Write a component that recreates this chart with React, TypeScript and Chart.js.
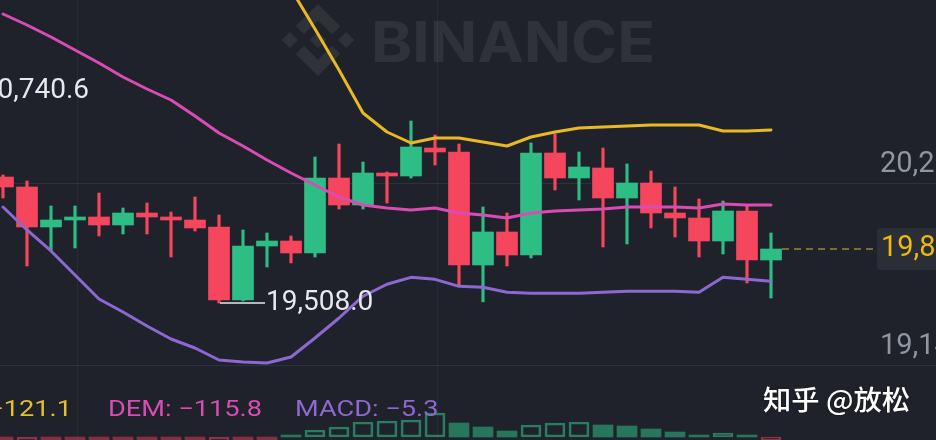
import React, { useEffect, useRef } from "react";
import { Chart, registerables } from "chart.js";

Chart.register(...registerables);

// ---------- data ----------
const opens = [
  20240.6, 20182.5, 19950.0, 19990.6, 20008.1, 19961.6, 20031.3, 20008.1, 19990.6, 19950.0,
  19525.5, 19839.4, 19868.5, 19798.8, 20234.8, 20077.8, 20263.9, 20246.4, 20409.2, 20386.0,
  19729.0, 19920.9, 19787.1, 20380.2, 20234.8, 20293.0, 20118.5, 20205.7, 20031.3, 20002.3,
  19868.5, 20043.0, 19758.1,
];
const highs = [
  20252.3, 20217.4, 20072.0, 20072.0, 20147.6, 20060.4, 20089.5, 20037.1, 20124.4, 20019.7,
  19932.5, 19915.1, 19897.6, 20356.9, 20432.5, 20327.8, 20269.7, 20566.2, 20484.8, 20432.5,
  20066.2, 20031.3, 20438.3, 20490.6, 20386.0, 20409.2, 20316.4, 20275.5, 20182.5, 20112.7,
  20101.1, 20077.8, 19915.1,
];
const lows = [
  20118.5, 19723.2, 19810.4, 19827.8, 19897.6, 19909.2, 19909.2, 19775.5, 19926.7, 19508.0,
  19519.7, 19717.4, 19740.6, 19775.5, 20054.6, 20054.6, 20089.5, 20234.8, 20310.4, 19612.7,
  19515.0, 19723.2, 19769.7, 20165.0, 20106.9, 19833.6, 19851.1, 19944.1, 19891.8, 19775.5,
  19792.9, 19624.4, 19537.1,
];
const closes = [
  20182.5, 19950.0, 19990.6, 20008.1, 19961.6, 20031.3, 20008.1, 19990.6, 19944.1, 19525.5,
  19839.4, 19868.5, 19798.8, 20234.8, 20077.8, 20263.9, 20246.4, 20415.0, 20386.0, 19729.0,
  19920.9, 19787.1, 20380.2, 20234.8, 20298.8, 20118.5, 20205.7, 20031.3, 20002.3, 19868.5,
  20043.0, 19758.1, 19822.0,
];
const upperBand = [
  22298.8, 22316.2, 22298.8, 22287.2, 22275.5, 22188.3, 22130.2, 22077.8, 21944.1, 21816.2,
  21676.7, 21519.7, 21333.7, 21101.1, 20862.7, 20612.7, 20502.3, 20438.3, 20467.4, 20467.4,
  20444.1, 20420.9, 20473.2, 20502.3, 20525.5, 20531.3, 20537.1, 20543.0, 20543.0, 20543.0,
  20508.1, 20508.1, 20513.9,
];
const middleBand = [
  21188.3, 21124.3, 21054.6, 20979.0, 20903.4, 20822.0, 20752.3, 20688.3, 20595.3, 20496.5,
  20420.9, 20339.5, 20263.9, 20194.1, 20124.3, 20077.8, 20060.4, 20048.8, 20060.4, 20031.3,
  20019.7, 20002.3, 20031.3, 20043.0, 20048.8, 20054.6, 20066.2, 20066.2, 20066.2, 20060.4,
  20083.6, 20077.8, 20077.8,
];
const lowerBand = [
  20066.2, 19932.5, 19810.4, 19670.9, 19531.4, 19455.7, 19374.3, 19298.8, 19246.4, 19176.7,
  19165.0, 19159.2, 19194.1, 19304.6, 19420.8, 19547.4, 19617.1, 19657.2, 19645.6, 19604.9,
  19599.1, 19570.1, 19564.3, 19564.3, 19564.3, 19570.1, 19575.8, 19575.8, 19575.8, 19570.1,
  19657.2, 19645.6, 19634.0,
];
const macdHist = [
  -40, -48, -45, -42, -38, -35, -31, -28, -24, -45,
  -38, -20, 4, 14, 20, 30, 32, 34, 48, 28,
  20, 12, 24, 28, 30, 24, 22, 16, 10, 4,
  8, 4, -5.3,
];
const priceTicks = [20205.7, 19147.6];
const priceTickLabels = ["20,205.7", "19,147.6"];
const timeGridValues = [3.08, 18.08];
const highMarkValue = 20740.6;
const lowMarkValue = 19508.0;
const lowMarkIndex = 9;
const difValue = -121.1;
const demValue = -115.8;
const macdValue = -5.3;

// ---------- style ----------
const BG = "#1f222a";
const UP = "#2ebd85";
const DOWN = "#f6465d";
const YELLOW = "#e9b923";
const PINK = "#d94cb4";
const PURPLE = "#8d68d0";

const fmt = (v: number) =>
  v.toLocaleString("en-US", { minimumFractionDigits: 1, maximumFractionDigits: 1 });
const fmtSigned = (v: number) => (v < 0 ? "\u2212" + fmt(Math.abs(v)) : fmt(v));

const candleColors = closes.map((c, i) => (c >= opens[i] ? UP : DOWN));
const macdHollow = macdHist.map((v, i) => i > 0 && Math.abs(v) > Math.abs(macdHist[i - 1]));
const macdFill = macdHist.map((v, i) =>
  macdHollow[i] ? "rgba(0,0,0,0)" : v >= 0 ? "rgba(46,189,133,0.55)" : "rgba(246,70,93,0.45)"
);
const macdBorder = macdHist.map((v) => (v >= 0 ? "rgba(46,189,133,0.6)" : "rgba(246,70,93,0.5)"));
const macdBorderW = macdHollow.map((h) => (h ? 2 : 0));

function scaledText(
  ctx: CanvasRenderingContext2D,
  text: string,
  x: number,
  y: number,
  font: string,
  color: string,
  sx: number,
  align: "left" | "right" = "left"
) {
  ctx.save();
  ctx.font = font;
  ctx.fillStyle = color;
  ctx.textBaseline = "middle";
  ctx.textAlign = "left";
  const w = ctx.measureText(text).width * sx;
  const left = align === "right" ? x - w : x;
  ctx.translate(left, y);
  ctx.scale(sx, 1);
  ctx.fillText(text, 0, 0);
  ctx.restore();
}

const LOGO_TOP = [[38.73, 53.2], [63.3, 28.62], [87.89, 53.21], [102.19, 38.91], [63.3, 0], [24.42, 38.9]];
const LOGO_BOTTOM = [[38.73, 73.41], [63.3, 97.99], [87.89, 73.4], [102.2, 87.7], [63.3, 126.61], [24.42, 87.73]];

const overlayPlugin = {
  id: "overlay",
  beforeDraw(chart: any) {
    const { ctx, width, height } = chart;
    ctx.save();
    ctx.fillStyle = BG;
    ctx.fillRect(0, 0, width, height);
    ctx.restore();
  },
  beforeDatasetsDraw(chart: any) {
    const { ctx, width, height } = chart;
    const xs = chart.scales.x;
    const ys = chart.scales.y;
    ctx.save();
    // watermark logo
    ctx.fillStyle = "rgba(255,255,255,0.075)";
    const s = 72 / 126.61;
    const ox = 282;
    const oy = 4;
    const poly = (pts: number[][]) => {
      ctx.beginPath();
      pts.forEach((p, i) => {
        const px = ox + p[0] * s;
        const py = oy + p[1] * s;
        if (i === 0) ctx.moveTo(px, py);
        else ctx.lineTo(px, py);
      });
      ctx.closePath();
      ctx.fill();
    };
    const diamond = (cx: number, cy: number, r: number) =>
      poly([[cx - r, cy], [cx, cy - r], [cx + r, cy], [cx, cy + r]]);
    poly(LOGO_TOP);
    poly(LOGO_BOTTOM);
    diamond(13.7, 63.3, 14.28);
    diamond(112.91, 63.3, 14.28);
    diamond(63.3, 63.3, 14.55);
    // watermark word
    ctx.font = "bold 56px Inter";
    ctx.textBaseline = "alphabetic";
    const ww = ctx.measureText("BINANCE").width;
    ctx.save();
    ctx.translate(371, 62);
    ctx.scale(284 / ww, 1);
    ctx.fillText("BINANCE", 0, 0);
    ctx.restore();

    // grid lines
    ctx.lineWidth = 1;
    ctx.strokeStyle = "rgba(255,255,255,0.045)";
    timeGridValues.forEach((v) => {
      const px = Math.round(xs.getPixelForValue(v)) + 0.5;
      ctx.beginPath();
      ctx.moveTo(px, 0);
      ctx.lineTo(px, height);
      ctx.stroke();
    });
    ctx.strokeStyle = "rgba(255,255,255,0.07)";
    priceTicks.forEach((v) => {
      const py = Math.round(ys.getPixelForValue(v)) + 0.5;
      ctx.beginPath();
      ctx.moveTo(0, py);
      ctx.lineTo(width, py);
      ctx.stroke();
    });
    ctx.restore();
  },
  afterDatasetsDraw(chart: any) {
    const { ctx } = chart;
    const xs = chart.scales.x;
    const ys = chart.scales.y;
    const priceFont = "28px Roboto";
    const axisFont = "29px Roboto";
    ctx.save();

    // right axis labels
    priceTicks.forEach((v, i) => {
      const py = ys.getPixelForValue(v);
      scaledText(ctx, priceTickLabels[i], 880, py - 18, axisFont, "#8f96a1", 1);
    });

    // high / low marks
    scaledText(ctx, fmt(highMarkValue), 89, ys.getPixelForValue(highMarkValue), priceFont, "#e6e8ec", 1, "right");
    const lx = xs.getPixelForValue(lowMarkIndex);
    const ly = ys.getPixelForValue(lowMarkValue);
    ctx.strokeStyle = "#e6e8ec";
    ctx.lineWidth = 1.5;
    ctx.beginPath();
    ctx.moveTo(lx + 1, ly);
    ctx.lineTo(lx + 46, ly);
    ctx.stroke();
    scaledText(ctx, fmt(lowMarkValue), lx + 47, ly, priceFont, "#e6e8ec", 1);

    // last price line + box
    const last = closes[closes.length - 1];
    const lastX = xs.getPixelForValue(closes.length - 1) + 11;
    const lpy = ys.getPixelForValue(last);
    ctx.strokeStyle = "rgba(190,160,45,0.6)";
    ctx.lineWidth = 2;
    ctx.setLineDash([7, 5]);
    ctx.beginPath();
    ctx.moveTo(lastX, lpy);
    ctx.lineTo(877, lpy);
    ctx.stroke();
    ctx.setLineDash([]);
    ctx.fillStyle = "#2a2e36";
    ctx.beginPath();
    if ((ctx as any).roundRect) (ctx as any).roundRect(877, lpy - 21, 80, 42, 4);
    else ctx.rect(877, lpy - 21, 80, 42);
    ctx.fill();
    scaledText(ctx, fmt(last), 881, lpy, axisFont, "#f0b90b", 1);

    // MACD legend
    const legendFont = "22px Roboto";
    ctx.font = legendFont;
    const demText = "DEM: " + fmtSigned(demValue);
    const sx = 154 / ctx.measureText(demText).width;
    scaledText(ctx, "DIF: " + fmtSigned(difValue), 72, 410, legendFont, "#e3c02c", sx, "right");
    scaledText(ctx, demText, 108, 410, legendFont, PINK, sx);
    scaledText(ctx, "MACD: " + fmtSigned(macdValue), 295, 410, legendFont, PURPLE, sx);

    // author watermark
    const wmFont = '500 27px "Noto Sans CJK SC"';
    ctx.font = wmFont;
    const wmText = "知乎 @放松";
    const wsx = 147 / ctx.measureText(wmText).width;
    ctx.shadowColor = "rgba(0,0,0,0.5)";
    ctx.shadowBlur = 2;
    scaledText(ctx, wmText, 763, 400, wmFont, "#ffffff", wsx);
    ctx.restore();
  },
};

export default function App() {
  const ref = useRef<HTMLCanvasElement>(null);
  useEffect(() => {
    document.body.style.margin = "0";
    document.body.style.background = BG;
    const idx = closes.map((_, i) => i);
    const lineDs = (label: string, values: number[], color: string) => ({
      type: "line",
      label,
      data: idx.map((i) => ({ x: i, y: values[i] })),
      borderColor: color,
      borderWidth: 3,
      borderJoinStyle: "round",
      borderCapStyle: "round",
      pointRadius: 0,
      tension: 0,
      yAxisID: "y",
      order: 0,
    });
    const chart = new Chart(ref.current as HTMLCanvasElement, {
      type: "bar",
      data: {
        datasets: [
          lineDs("UB", upperBand, YELLOW),
          lineDs("BOLL", middleBand, PINK),
          lineDs("LB", lowerBand, PURPLE),
          {
            type: "bar",
            label: "wick",
            data: idx.map((i) => ({ x: i, y: [lows[i], highs[i]] })),
            backgroundColor: candleColors,
            barThickness: 2.5,
            grouped: false,
            yAxisID: "y",
            order: 1,
          },
          {
            type: "bar",
            label: "body",
            data: idx.map((i) => ({ x: i, y: [opens[i], closes[i]] })),
            backgroundColor: candleColors,
            barThickness: 21,
            grouped: false,
            yAxisID: "y",
            order: 1,
          },
          {
            type: "bar",
            label: "MACD",
            data: idx.map((i) => ({ x: i, y: macdHist[i] })),
            backgroundColor: macdFill,
            borderColor: macdBorder,
            borderWidth: macdBorderW,
            borderSkipped: false,
            barThickness: 20,
            grouped: false,
            yAxisID: "yM",
            order: 2,
          },
        ] as any,
      },
      options: {
        animation: false,
        responsive: false,
        devicePixelRatio: 1,
        layout: { padding: 0 },
        plugins: { legend: { display: false }, tooltip: { enabled: false } },
        scales: {
          x: { type: "linear", min: -0.125, max: 38.875, offset: false, display: false },
          y: { type: "linear", min: 18711.5, max: 21269.7, display: false },
          yM: { type: "linear", min: -6, max: 874, display: false },
        },
      } as any,
      plugins: [overlayPlugin],
    });
    return () => chart.destroy();
  }, []);
  return (
    <div style={{ width: 936, height: 440, position: "relative" }}>
      <canvas ref={ref} width={936} height={440} style={{ display: "block", width: 936, height: 440 }} />
    </div>
  );
}
